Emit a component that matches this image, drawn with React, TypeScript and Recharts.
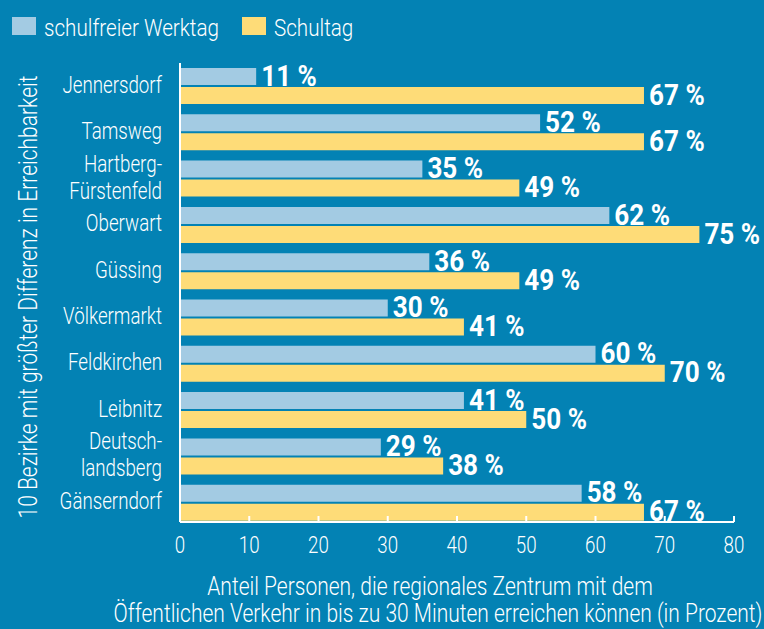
import { BarChart, Bar, XAxis, YAxis, LabelList } from "recharts";

const districts = [
  "Jennersdorf",
  "Tamsweg",
  "Hartberg-\nFürstenfeld",
  "Oberwart",
  "Güssing",
  "Völkermarkt",
  "Feldkirchen",
  "Leibnitz",
  "Deutsch-\nlandsberg",
  "Gänserndorf",
];
const freeWorkday = [11, 52, 35, 62, 36, 30, 60, 41, 29, 58];
const schoolDay = [67, 67, 49, 75, 49, 41, 70, 50, 38, 67];
const xTicks = [0, 10, 20, 30, 40, 50, 60, 70, 80];

const data = districts.map((name, i) => ({
  name,
  frei: freeWorkday[i],
  schule: schoolDay[i],
}));

const BG = "#0382b4";
const LIGHT_BLUE = "#a3cbe3";
const YELLOW = "#fedc78";
const FONT = "Roboto, 'Liberation Sans', sans-serif";
const SX = 0.78; // squeeze to mimic a condensed face

// text squeezed horizontally around its anchor point
// eslint-disable-next-line @typescript-eslint/no-explicit-any
function CText({ x, y, rotate = 0, sx = SX, size = 24, weight = 300, anchor = "start", children }: any) {
  return (
    <g transform={`translate(${x},${y}) rotate(${rotate}) scale(${sx},1)`}>
      <text
        x={0}
        y={0}
        dy="0.35em"
        textAnchor={anchor}
        fill="#fff"
        fontSize={size}
        fontWeight={weight}
        fontFamily={FONT}
      >
        {children}
      </text>
    </g>
  );
}

// eslint-disable-next-line @typescript-eslint/no-explicit-any
function DistrictTick({ x, y, payload }: any) {
  const lines = String(payload.value).split("\n");
  const lh = 27;
  const start = -((lines.length - 1) * lh) / 2;
  return (
    <g>
      {lines.map((l, i) => (
        <CText key={i} x={x - 10} y={y - 2 + start + i * lh} anchor="end">
          {l}
        </CText>
      ))}
    </g>
  );
}

// eslint-disable-next-line @typescript-eslint/no-explicit-any
function PercentTick({ x, y, payload }: any) {
  return (
    <g>
      <line x1={x} x2={x} y1={y - 6} y2={y} stroke="#fff" strokeWidth={2} />
      <CText x={x} y={y + 23} anchor="middle">
        {payload.value}
      </CText>
    </g>
  );
}

// eslint-disable-next-line @typescript-eslint/no-explicit-any
function ValueLabel({ x, y, width, height, value }: any) {
  return (
    <CText x={x + width + 5} y={y + height / 2 - 1} size={29} weight={700} sx={0.9}>
      {`${value} %`}
    </CText>
  );
}

export default function App() {
  return (
    <div
      style={{
        position: "absolute",
        left: 0,
        top: 0,
        width: 764,
        height: 629,
        background: BG,
        overflow: "hidden",
      }}
    >
      <BarChart
        width={764}
        height={629}
        data={data}
        layout="vertical"
        margin={{ top: 63, right: 30, bottom: 77, left: 0 }}
        barSize={17}
        barGap={2}
      >
        <XAxis
          type="number"
          domain={[0, 80]}
          ticks={xTicks}
          interval={0}
          height={30}
          axisLine={{ stroke: "#fff", strokeWidth: 2 }}
          tickLine={false}
          tickSize={0}
          tickMargin={0}
          tick={<PercentTick />}
        />
        <YAxis
          type="category"
          dataKey="name"
          width={180}
          interval={0}
          padding={{ top: 0, bottom: -4 }}
          axisLine={{ stroke: "#fff", strokeWidth: 2 }}
          tickLine={false}
          tick={<DistrictTick />}
        />
        <Bar dataKey="frei" fill={LIGHT_BLUE} isAnimationActive={false}>
          <LabelList dataKey="frei" content={<ValueLabel />} />
        </Bar>
        <Bar dataKey="schule" fill={YELLOW} isAnimationActive={false}>
          <LabelList dataKey="schule" content={<ValueLabel />} />
        </Bar>

        {/* legend */}
        <rect x={12} y={17} width={24} height={18} fill={LIGHT_BLUE} />
        <CText x={44} y={28} size={24} sx={0.86}>schulfreier Werktag</CText>
        <rect x={242} y={17} width={24} height={18} fill={YELLOW} />
        <CText x={274} y={28} size={24} sx={0.86}>Schultag</CText>

        <CText x={28} y={297} rotate={-90} anchor="middle" size={25} sx={0.84}>
          10 Bezirke mit größter Differenz in Erreichbarkeit
        </CText>
        <CText x={430} y={586} anchor="middle" size={25} sx={0.84}>
          Anteil Personen, die regionales Zentrum mit dem
        </CText>
        <CText x={438} y={613} anchor="middle" size={25} sx={0.84}>
          Öffentlichen Verkehr in bis zu 30 Minuten erreichen können (in Prozent)
        </CText>
      </BarChart>
    </div>
  );
}
